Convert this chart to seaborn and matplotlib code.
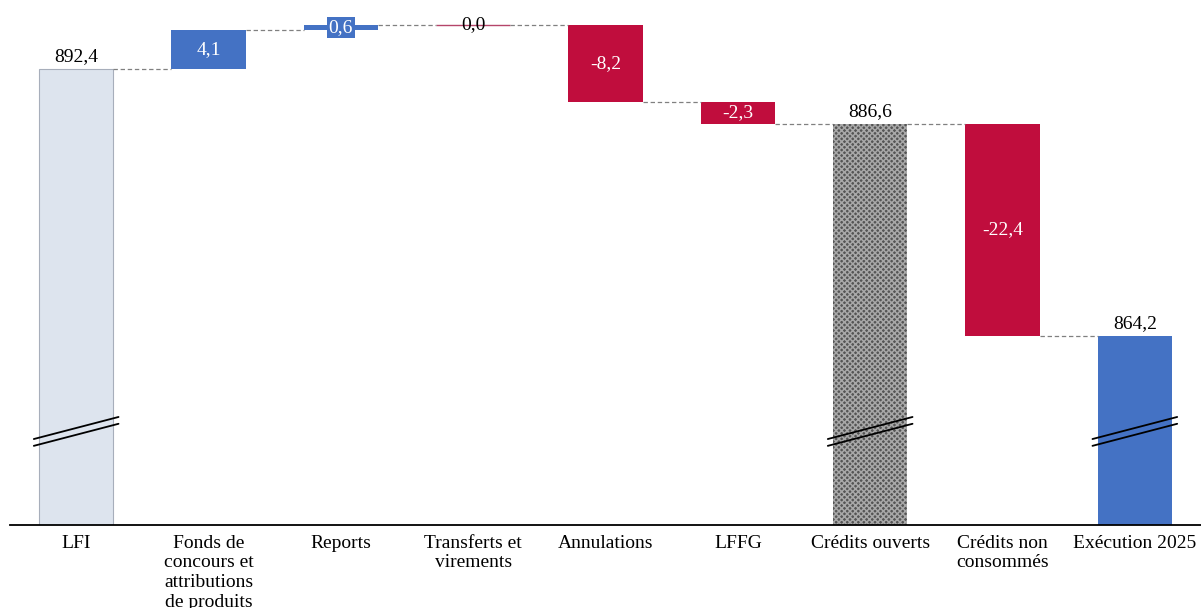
import numpy as np
import pandas as pd
import matplotlib
matplotlib.use("Agg")
import matplotlib.pyplot as plt
import seaborn as sns

# Budget execution waterfall (values in M€)
categories = [
    "LFI",
    "Fonds de\nconcours et\nattributions\nde produits",
    "Reports",
    "Transferts et\nvirements",
    "Annulations",
    "LFFG",
    "Crédits ouverts",
    "Crédits non\nconsommés",
    "Exécution 2025",
]
values = [892.4, 4.1, 0.6, 0.0, -8.2, -2.3, 886.6, -22.4, 864.2]
kinds = ["total", "delta", "delta", "delta", "delta", "delta", "total", "delta", "total"]

# Running totals -> floating bar extents
lows, highs, levels = [], [], []
running = 0.0
for v, k in zip(values, kinds):
    if k == "total":
        running = v
        lows.append(0.0)
        highs.append(v)
    else:
        start = running
        running = round(running + v, 1)
        lows.append(min(start, running))
        highs.append(max(start, running))
    levels.append(running)

df = pd.DataFrame({
    "category": categories,
    "height": np.array(highs) - np.array(lows),
    "bottom": lows,
})

sns.set_theme(style="white")
plt.rcParams["font.family"] = ["Liberation Serif", "DejaVu Serif"]
plt.rcParams["hatch.linewidth"] = 1.1

fig = plt.figure(figsize=(12.01, 6.08), dpi=100)
ax = fig.add_axes([10 / 1201, 83 / 608, 1191 / 1201, 525 / 608])

bar_width = 0.56
sns.barplot(data=df, x="category", y="height", bottom=df["bottom"].tolist(),
            width=bar_width, color="#4472c4", linewidth=0, ax=ax)

blue = "#4472c4"
red = "#c00d3d"
for i, patch in enumerate(ax.patches):
    v, k = values[i], kinds[i]
    if i == 0:
        patch.set_facecolor("#dde4ee")
        patch.set_edgecolor("#a7aebb")
        patch.set_linewidth(0.8)
    elif k == "total" and i == 6:
        patch.set_facecolor("#555555")
        patch.set_edgecolor("#a8a8a8")
        patch.set_hatch("xxxxxx")
        patch.set_linewidth(0)
    elif k == "total":
        patch.set_facecolor(blue)
    elif v > 0:
        patch.set_facecolor(blue)
    elif v < 0:
        patch.set_facecolor(red)
    else:
        patch.set_facecolor(red)
        patch.set_edgecolor("#b5456a")
        patch.set_linewidth(1.0)

ymin = 844.24
ax.set_ylim(ymin, ymin + 525 / 9.468)
ax.set_xlim(-0.5, len(categories) - 0.5)

# Dashed connectors between consecutive bars
for i in range(len(categories) - 1):
    y = levels[i]
    ax.plot([i + bar_width / 2, i + 1 - bar_width / 2], [y, y],
            color="#808080", lw=0.9, ls=(0, (3.5, 2.2)), zorder=1)

# Value labels
fs = 14
for i, (v, k) in enumerate(zip(values, kinds)):
    txt = f"{v:.1f}".replace(".", ",")
    if k == "total":
        ax.annotate(txt, (i, highs[i]), xytext=(0, 3), textcoords="offset points",
                    ha="center", va="bottom", fontsize=fs, color="black")
    elif v == 0:
        ax.text(i, highs[i], txt, ha="center", va="center", fontsize=fs, color="black")
    elif abs(v) < 1:
        ax.text(i, (lows[i] + highs[i]) / 2, txt, ha="center", va="center",
                fontsize=fs, color="white",
                bbox=dict(boxstyle="square,pad=0.1", fc=blue, ec="none"))
    else:
        ax.text(i, (lows[i] + highs[i]) / 2, txt, ha="center", va="center",
                fontsize=fs, color="white")

# Axis-break marks on the total bars
for i, k in enumerate(kinds):
    if k == "total":
        for dy in (0.0, -0.72):
            ax.plot([i - 0.32, i + 0.32], [853.32 + dy, 855.65 + dy],
                    color="black", lw=1.3, zorder=5, clip_on=False)

ax.set_xlabel("")
ax.set_ylabel("")
ax.set_yticks([])
for side in ("left", "right", "top"):
    ax.spines[side].set_visible(False)
ax.spines["bottom"].set_color("black")
ax.spines["bottom"].set_linewidth(1.3)
ax.tick_params(axis="x", length=0, pad=7, labelsize=fs, colors="black")
for lab in ax.get_xticklabels():
    lab.set_linespacing(1.2)

fig.savefig("out.png", dpi=100)
